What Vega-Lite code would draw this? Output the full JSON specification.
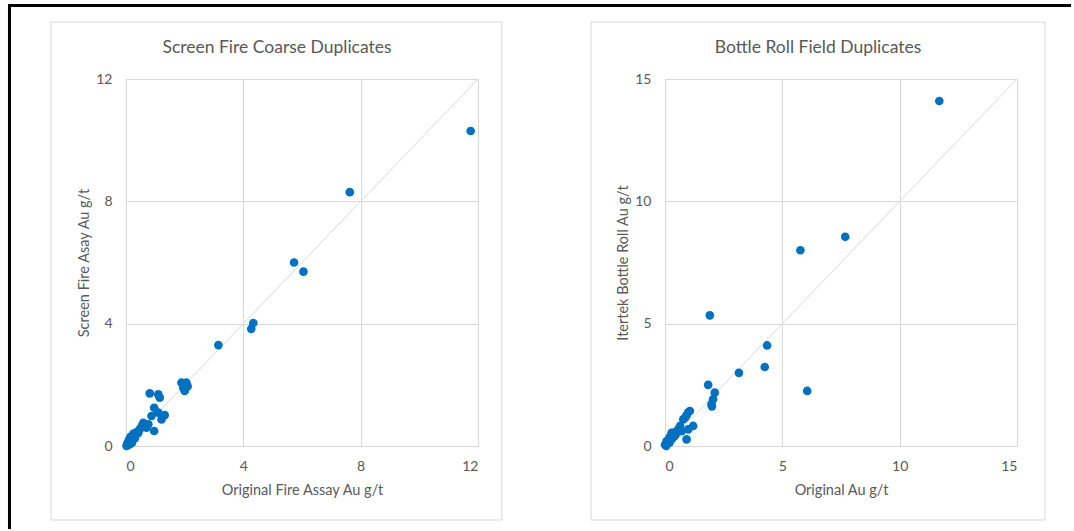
{
  "$schema": "https://vega.github.io/schema/vega-lite/v6.json",
  "padding": {"left": 7, "top": 2, "right": 0, "bottom": 0},
  "background": "white",
  "bounds": "flush",
  "spacing": 187,
  "config": {
    "font": "Lato",
    "view": {"stroke": null},
    "axis": {
      "grid": true,
      "gridColor": "#D9D9D9",
      "gridWidth": 1,
      "domainColor": "#D9D9D9",
      "domainWidth": 1,
      "ticks": false,
      "tickSize": 0,
      "labelColor": "#595959",
      "labelFont": "Lato",
      "labelFontSize": 14,
      "titleColor": "#595959",
      "titleFont": "Lato",
      "titleFontSize": 14.5,
      "titleFontWeight": "normal"
    },
    "axisX": {"labelPadding": 13, "titlePadding": 10},
    "axisY": {"labelPadding": 14, "titlePadding": 4}
  },
  "datasets": {
    "screenFire": [
      {"orig": 11.75, "dup": 10.3}, {"orig": 7.63, "dup": 8.3}, {"orig": 5.73, "dup": 6.0}, {"orig": 6.05, "dup": 5.7},
      {"orig": 4.34, "dup": 4.02}, {"orig": 4.27, "dup": 3.83}, {"orig": 3.15, "dup": 3.3},
      {"orig": 1.89, "dup": 2.07}, {"orig": 2.06, "dup": 2.07}, {"orig": 1.95, "dup": 1.91}, {"orig": 2.0, "dup": 1.8}, {"orig": 2.1, "dup": 1.95},
      {"orig": 0.81, "dup": 1.72}, {"orig": 1.1, "dup": 1.69}, {"orig": 1.15, "dup": 1.58},
      {"orig": 0.96, "dup": 1.25},
      {"orig": 0.87, "dup": 0.98}, {"orig": 1.1, "dup": 1.09}, {"orig": 1.32, "dup": 1.01}, {"orig": 1.21, "dup": 0.87},
      {"orig": 0.59, "dup": 0.76}, {"orig": 0.76, "dup": 0.71}, {"orig": 0.7, "dup": 0.6}, {"orig": 0.96, "dup": 0.49}, {"orig": 0.55, "dup": 0.68},
      {"orig": 0.47, "dup": 0.55}, {"orig": 0.42, "dup": 0.43}, {"orig": 0.31, "dup": 0.33}, {"orig": 0.35, "dup": 0.45}, {"orig": 0.25, "dup": 0.4}, {"orig": 0.3, "dup": 0.25},
      {"orig": 0.19, "dup": 0.27}, {"orig": 0.14, "dup": 0.16}, {"orig": 0.08, "dup": 0.06}, {"orig": 0.02, "dup": 0.0}, {"orig": 0.05, "dup": 0.1},
      {"orig": 0.12, "dup": 0.05}, {"orig": 0.2, "dup": 0.1}, {"orig": 0.1, "dup": 0.2}, {"orig": 0.03, "dup": 0.03}, {"orig": 0.15, "dup": 0.3}
    ],
    "bottleRoll": [
      {"orig": 11.69, "dup": 14.1}, {"orig": 7.68, "dup": 8.55}, {"orig": 5.77, "dup": 8.0}, {"orig": 6.06, "dup": 2.25},
      {"orig": 4.35, "dup": 4.11}, {"orig": 4.25, "dup": 3.23}, {"orig": 3.15, "dup": 2.99},
      {"orig": 1.91, "dup": 5.34}, {"orig": 1.84, "dup": 2.5}, {"orig": 2.12, "dup": 2.18}, {"orig": 2.05, "dup": 1.91}, {"orig": 1.98, "dup": 1.7}, {"orig": 2.0, "dup": 1.62},
      {"orig": 1.06, "dup": 1.43}, {"orig": 0.99, "dup": 1.38}, {"orig": 0.92, "dup": 1.25}, {"orig": 0.78, "dup": 1.09}, {"orig": 0.85, "dup": 1.15},
      {"orig": 1.2, "dup": 0.82}, {"orig": 0.64, "dup": 0.82}, {"orig": 0.57, "dup": 0.68}, {"orig": 0.99, "dup": 0.68}, {"orig": 0.71, "dup": 0.61}, {"orig": 0.92, "dup": 0.27},
      {"orig": 0.35, "dup": 0.54}, {"orig": 0.28, "dup": 0.54}, {"orig": 0.21, "dup": 0.38}, {"orig": 0.45, "dup": 0.45}, {"orig": 0.07, "dup": 0.2}, {"orig": 0.0, "dup": 0.05},
      {"orig": 0.1, "dup": 0.1}, {"orig": 0.15, "dup": 0.25}, {"orig": 0.3, "dup": 0.3}, {"orig": 0.05, "dup": 0.0}, {"orig": 0.2, "dup": 0.15}, {"orig": 0.5, "dup": 0.6}, {"orig": 0.4, "dup": 0.4}
    ],
    "line1": [{"orig": 0, "dup": 0}, {"orig": 12, "dup": 12}],
    "line2": [{"orig": 0, "dup": 0}, {"orig": 15, "dup": 15}],
    "title1": [{"label": "Screen Fire Coarse Duplicates"}],
    "title2": [{"label": "Bottle Roll Field Duplicates"}]
  },
  "hconcat": [
    {
      "width": 352,
      "height": 367,
      "layer": [
        {
          "data": {"values": [{}]},
          "mark": {"type": "rect", "fill": "transparent", "stroke": "#D9D9D9", "strokeWidth": 1},
          "encoding": {
            "x": {"datum": -2.557, "type": "quantitative"},
            "x2": {"datum": 12.818},
            "y": {"datum": 13.865, "type": "quantitative"},
            "y2": {"datum": -2.42}
          }
        },
        {
          "data": {"values": [{}]},
          "mark": {"type": "rule", "color": "black", "strokeWidth": 3},
          "encoding": {
            "x": {"datum": -3.972, "type": "quantitative"},
            "x2": {"datum": 32.216},
            "y": {"datum": 14.403, "type": "quantitative"}
          }
        },
        {
          "data": {"values": [{}]},
          "mark": {"type": "rule", "color": "black", "strokeWidth": 3},
          "encoding": {
            "x": {"datum": -3.972, "type": "quantitative"},
            "y": {"datum": 14.45, "type": "quantitative"},
            "y2": {"datum": -2.714}
          }
        },
        {
          "data": {"name": "line1"},
          "mark": {"type": "line", "color": "#D9D9D9", "strokeWidth": 1},
          "encoding": {
            "x": {"field": "orig", "type": "quantitative"},
            "y": {"field": "dup", "type": "quantitative"}
          }
        },
        {
          "data": {"name": "screenFire"},
          "mark": {"type": "circle", "color": "#0070C0", "opacity": 1, "size": 75},
          "encoding": {
            "x": {"field": "orig", "type": "quantitative", "title": "Original Fire Assay Au g/t",
                  "scale": {"domain": [0, 12], "nice": false, "zero": false},
                  "axis": {"values": [0, 4, 8, 12]}},
            "y": {"field": "dup", "type": "quantitative", "title": "Screen Fire Asay Au g/t",
                  "scale": {"domain": [0, 12], "nice": false, "zero": false},
                  "axis": {"values": [0, 4, 8, 12]}}
          }
        },
        {
          "data": {"name": "title1"},
          "mark": {"type": "text", "font": "Lato", "fontSize": 17.5, "color": "#595959", "align": "center", "baseline": "middle"},
          "encoding": {
            "x": {"datum": 5.148, "type": "quantitative"},
            "y": {"datum": 13.014, "type": "quantitative"},
            "text": {"field": "label"}
          }
        }
      ]
    },
    {
      "width": 352,
      "height": 367,
      "layer": [
        {
          "data": {"values": [{}]},
          "mark": {"type": "rect", "fill": "transparent", "stroke": "#D9D9D9", "strokeWidth": 1},
          "encoding": {
            "x": {"datum": -3.153, "type": "quantitative"},
            "x2": {"datum": 16.193},
            "y": {"datum": 17.33, "type": "quantitative"},
            "y2": {"datum": -3.025}
          }
        },
        {
          "data": {"name": "line2"},
          "mark": {"type": "line", "color": "#D9D9D9", "strokeWidth": 1},
          "encoding": {
            "x": {"field": "orig", "type": "quantitative"},
            "y": {"field": "dup", "type": "quantitative"}
          }
        },
        {
          "data": {"name": "bottleRoll"},
          "mark": {"type": "circle", "color": "#0070C0", "opacity": 1, "size": 75},
          "encoding": {
            "x": {"field": "orig", "type": "quantitative", "title": "Original Au g/t",
                  "scale": {"domain": [0, 15], "nice": false, "zero": false},
                  "axis": {"values": [0, 5, 10, 15]}},
            "y": {"field": "dup", "type": "quantitative", "title": "Itertek Bottle Roll Au g/t",
                  "scale": {"domain": [0, 15], "nice": false, "zero": false},
                  "axis": {"values": [0, 5, 10, 15]}}
          }
        },
        {
          "data": {"name": "title2"},
          "mark": {"type": "text", "font": "Lato", "fontSize": 17.5, "color": "#595959", "align": "center", "baseline": "middle"},
          "encoding": {
            "x": {"datum": 6.52, "type": "quantitative"},
            "y": {"datum": 16.267, "type": "quantitative"},
            "text": {"field": "label"}
          }
        }
      ]
    }
  ]
}
